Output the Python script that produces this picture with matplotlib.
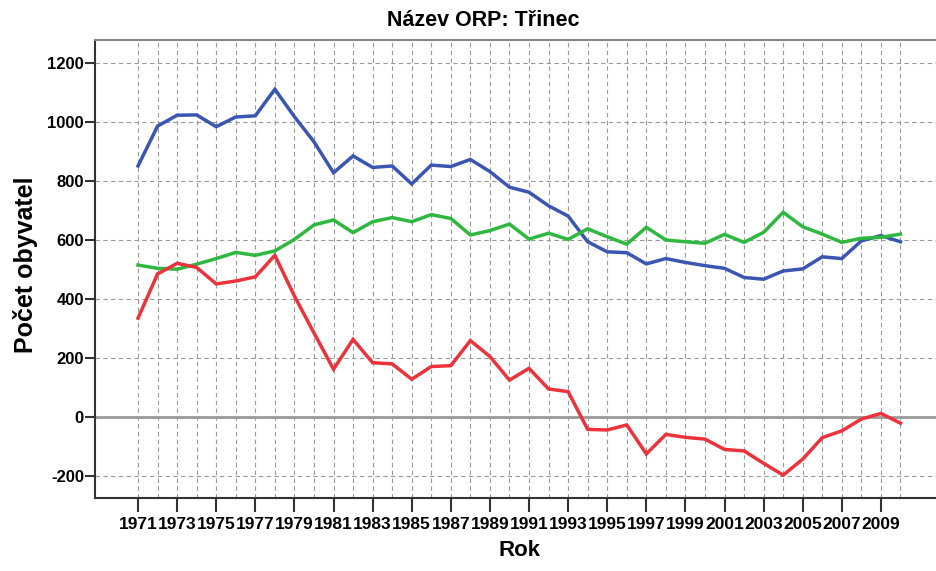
import matplotlib
matplotlib.use("Agg")
import matplotlib.pyplot as plt
from matplotlib.ticker import FixedLocator

years = list(range(1971, 2011))

narozeni = [851, 986, 1023, 1024, 984, 1017, 1021, 1111, 1018, 933,
            828, 885, 846, 851, 790, 854, 849, 873, 832, 779,
            762, 716, 681, 594, 560, 557, 519, 537, 524, 513,
            504, 473, 467, 495, 502, 543, 537, 597, 615, 594]

zemreli = [515, 504, 501, 518, 537, 558, 548, 563, 602, 651,
           668, 625, 662, 676, 662, 686, 673, 617, 632, 654,
           603, 623, 602, 638, 611, 586, 643, 600, 594, 589,
           619, 592, 626, 694, 645, 620, 592, 606, 609, 620]

prirozeny_prirustek = [335, 485, 521, 507, 451, 461, 475, 548, 410, 285,
                       162, 263, 184, 180, 128, 171, 174, 259, 205, 125,
                       165, 95, 86, -42, -44, -27, -125, -59, -69, -75,
                       -110, -115, -157, -197, -143, -70, -47, -7, 12, -21]

y_ticks = [-200, 0, 200, 400, 600, 800, 1000, 1200]
x_labels = [str(y) for y in range(1971, 2010, 2)]

W, H = 936, 571
fig = plt.figure(figsize=(W / 100, H / 100), dpi=100)
ax = fig.add_axes([95 / W, 1 - 498 / H, (940 - 95) / W, (498 - 40) / H])

ax.set_xlim(1968.80, 1968.80 + 845 / 19.55)
ax.set_ylim(-274.6, 1278)

grid_kw = dict(color="#9a9a9a", linestyle=(0, (4, 3)), linewidth=0.8)
for yr in years:
    ax.axvline(yr, zorder=0, **grid_kw)
for v in y_ticks:
    if v != 0:
        ax.axhline(v, zorder=0, **grid_kw)
ax.axhline(0, color="#9a9a9a", linewidth=2.0, zorder=1)

lw = 2.5
ax.plot(years, narozeni, color="#3b55b3", linewidth=lw, zorder=3, solid_joinstyle="miter")
ax.plot(years, zemreli, color="#2fb83f", linewidth=lw, zorder=3, solid_joinstyle="miter")
ax.plot(years, prirozeny_prirustek, color="#ec333b", linewidth=lw, zorder=3, solid_joinstyle="miter")

ax.yaxis.set_major_locator(FixedLocator(y_ticks))
ax.set_yticklabels([str(v) for v in y_ticks], fontsize=12, fontweight="bold",
                   family=["Liberation Sans", "DejaVu Sans"])
ax.xaxis.set_major_locator(FixedLocator(list(range(1971, 2010, 2))))
ax.set_xticklabels(x_labels, fontsize=12.5, fontweight="bold",
                   family=["Liberation Sans", "DejaVu Sans"])

ax.tick_params(axis="y", length=7, width=1.5, color="#333333", pad=1)
ax.tick_params(axis="x", length=10, width=1.5, color="#333333", pad=4)

for side in ("left", "bottom"):
    ax.spines[side].set_color("#333333")
    ax.spines[side].set_linewidth(1.5)
ax.spines["top"].set_color("#888888")
ax.spines["top"].set_linewidth(1.5)
ax.spines["right"].set_visible(False)

fig.text(483 / W, 1 - 21 / H, "Název ORP: Třinec", ha="center", va="center",
         fontsize=15.5, fontweight="bold", family=["Liberation Sans", "DejaVu Sans"])
fig.text(26 / W, 1 - 265 / H, "Počet obyvatel", ha="center", va="center", rotation=90,
         fontsize=18, fontweight="bold", family=["Liberation Sans", "DejaVu Sans"])
fig.text(520 / W, 1 - 551 / H, "Rok", ha="center", va="center",
         fontsize=16, fontweight="bold", family=["Liberation Sans", "DejaVu Sans"])

fig.savefig("out.png", dpi=100)
